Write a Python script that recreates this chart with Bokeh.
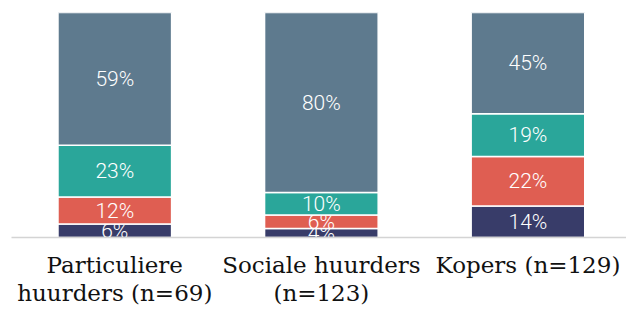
import numpy as np
from bokeh.plotting import figure
from bokeh.models import ColumnDataSource, Range1d, FixedTicker
from bokeh.core.properties import value
from bokeh.embed import file_html
from bokeh.resources import INLINE

# ---- data ----
categories = ["Particuliere huurders (n=69)", "Sociale huurders (n=123)", "Kopers (n=129)"]
tick_labels = ["Particuliere\nhuurders (n=69)", "Sociale huurders\n(n=123)", "Kopers (n=129)"]
series_names = ["serie_1", "serie_2", "serie_3", "serie_4"]   # bottom -> top
serie_1 = [6, 4, 14]
serie_2 = [12, 6, 22]
serie_3 = [23, 10, 19]
serie_4 = [59, 80, 45]
colors = ["#383c69", "#df5e52", "#2aa69a", "#5e7a8e"]

x = np.arange(len(categories), dtype=float)
values = np.array([serie_1, serie_2, serie_3, serie_4], dtype=float)
tops = np.cumsum(values, axis=0)
bottoms = tops - values

p = figure(width=626, height=309,
           x_range=Range1d(-0.5, 2.477), y_range=Range1d(0, 100),
           output_backend="svg", toolbar_location=None,
           min_border_left=11, min_border_right=0, min_border_top=12, min_border_bottom=0)

for i, name in enumerate(series_names):
    src = ColumnDataSource(dict(
        x=x, bottom=bottoms[i], top=tops[i],
        mid=(bottoms[i] + tops[i]) / 2,
        label=[f"{int(v)}%" for v in values[i]],
    ))
    p.vbar(x="x", bottom="bottom", top="top", width=0.55, source=src,
           fill_color=colors[i], line_color="white", line_width=1.5)
    p.text(x="x", y="mid", text="label", source=src,
           text_color="white", text_font=value("Roboto Light, Roboto"), text_font_size="21px",
           text_align="center", text_baseline="middle")

p.yaxis.visible = False
p.xgrid.visible = False
p.ygrid.visible = False
p.outline_line_color = None

ax = p.xaxis[0]
ax.ticker = FixedTicker(ticks=list(x))
ax.major_label_overrides = {float(i): lab for i, lab in enumerate(tick_labels)}
ax.major_tick_line_color = None
ax.minor_tick_line_color = None
ax.major_tick_out = 0
ax.major_tick_in = 0
ax.axis_line_color = "#d4d4d4"
ax.axis_line_width = 1.5
ax.major_label_standoff = 14
ax.major_label_text_font = "DejaVu Serif"
ax.major_label_text_font_size = "23px"
ax.major_label_text_line_height = 1.1
ax.major_label_text_color = "#111111"

open("out.html", "w").write(file_html(p, INLINE))
